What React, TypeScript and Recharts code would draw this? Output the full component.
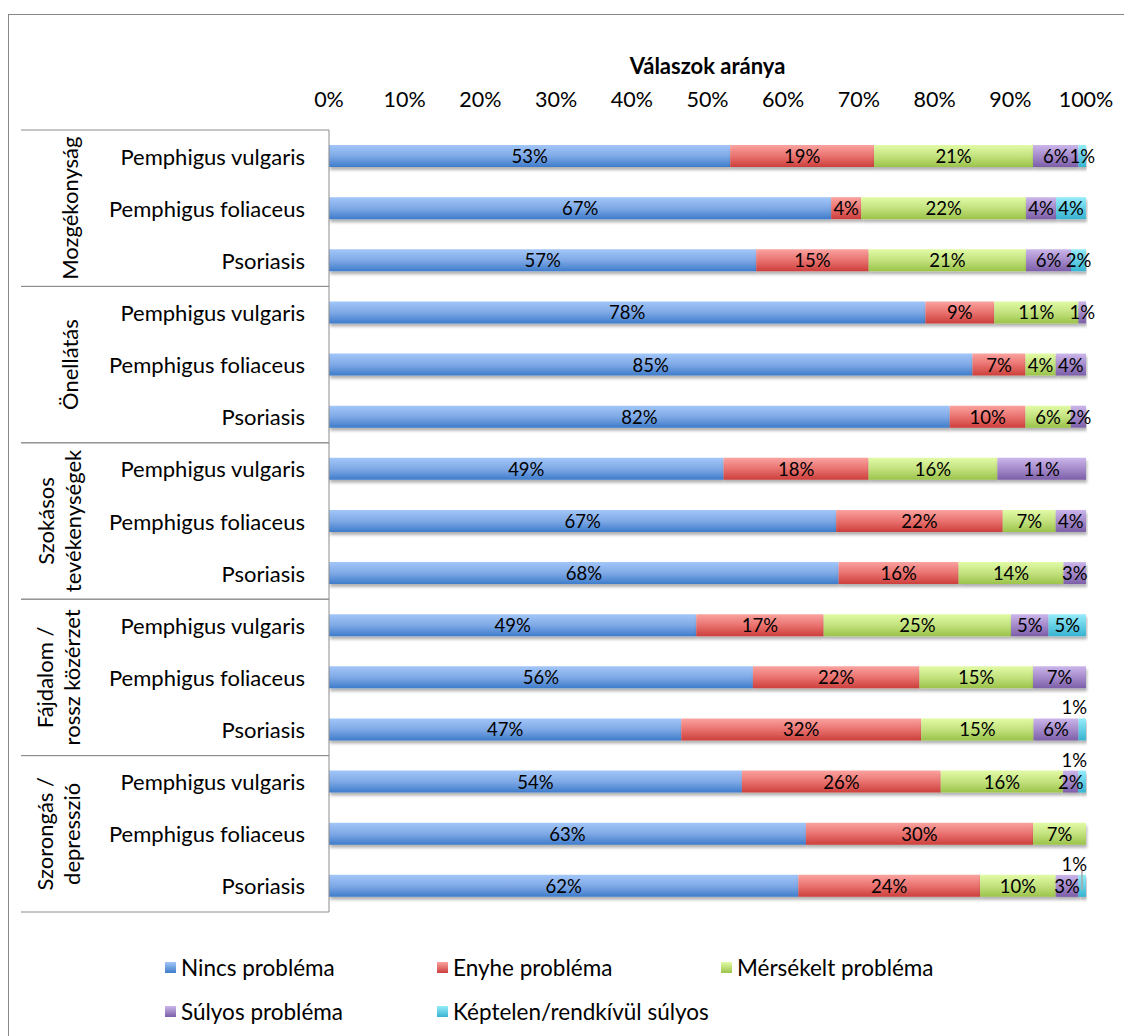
import React from 'react';
import { BarChart, Bar, XAxis, YAxis, LabelList, Legend } from 'recharts';

const groupLines: string[][] = [
  ['Mozgékonyság'],
  ['Önellátás'],
  ['Szokásos', 'tevékenységek'],
  ['Fájdalom /', 'rossz közérzet'],
  ['Szorongás /', 'depresszió'],
];
const diseases = ['Pemphigus vulgaris', 'Pemphigus foliaceus', 'Psoriasis'];
const seriesNames = ['Nincs probléma', 'Enyhe probléma', 'Mérsékelt probléma', 'Súlyos probléma', 'Képtelen/rendkívül súlyos'];

const nincs = [53, 67, 57, 78, 85, 82, 49, 67, 68, 49, 56, 47, 54, 63, 62];
const enyhe = [19, 4, 15, 9, 7, 10, 18, 22, 16, 17, 22, 32, 26, 30, 24];
const merseklet = [21, 22, 21, 11, 4, 6, 16, 7, 14, 25, 15, 15, 16, 7, 10];
const sulyos = [6, 4, 6, 1, 4, 2, 11, 4, 3, 5, 7, 6, 2, 0, 3];
const keptelen = [1, 4, 2, 0, 0, 0, 0, 0, 0, 5, 0, 1, 1, 0, 1];
const xTicks = [0, 0.1, 0.2, 0.3, 0.4, 0.5, 0.6, 0.7, 0.8, 0.9, 1];
const cyanLabelAboveRows = [11, 12, 14];

const seriesValues = [nincs, enyhe, merseklet, sulyos, keptelen];
const gradients = [
  ['#A2C6F8', '#7FA9E6', '#3E7CCB'],
  ['#FAA3A0', '#E9726F', '#CC3F3C'],
  ['#E2FBA6', '#C3E27E', '#9BC34A'],
  ['#CBB6EA', '#A58ACB', '#7C5FA8'],
  ['#96ECF9', '#66D0E6', '#38B3D0'],
];

const data = nincs.map((_, i) => {
  const row: any = { id: 'r' + i, idx: i, disease: diseases[i % 3], group: Math.floor(i / 3) };
  seriesValues.forEach((arr, s) => {
    row['s' + s] = arr[i];
  });
  return row;
});

const FONT = 'Lato, "Open Sans", sans-serif';
const LINE = '#8c8c8c';

const CategoryTick = (props: any) => {
  const { x, y, payload } = props;
  const i: number = payload.index;
  const half: number = payload.offset || 26;
  const pos = i % 3;
  const g = Math.floor(i / 3);
  const axisX = x + 24;
  const lines = groupLines[g];
  return (
    <g>
      <text x={x} y={y} textAnchor="end" dominantBaseline="central" fontSize={22} fill="#000" fontFamily={FONT}>
        {diseases[pos]}
      </text>
      {pos === 0 && <line x1={13} x2={axisX} y1={y - half} y2={y - half} stroke={LINE} strokeWidth={1} />}
      {pos === 2 && <line x1={13} x2={axisX} y1={y + half} y2={y + half} stroke={LINE} strokeWidth={1} />}
      {pos === 1 &&
        lines.map((t, k) => {
          const cx = lines.length === 1 ? 62 : 37 + k * 27;
          return (
            <text
              key={k}
              x={cx}
              y={y}
              transform={`rotate(-90, ${cx}, ${y})`}
              textAnchor="middle"
              dominantBaseline="central"
              fontSize={22}
              fill="#000"
              fontFamily={FONT}
            >
              {t}
            </text>
          );
        })}
    </g>
  );
};

const makeLabel = (s: number) => (props: any) => {
  const { x, y, width, height, value } = props;
  if (!value || !value.v) return null;
  let tx = x + width / 2;
  let ty = y + height / 2;
  let anchor: any = 'middle';
  const above = s === 4 && cyanLabelAboveRows.includes(value.i);
  if (above) {
    tx = x + width + 1;
    ty = y - 11;
    anchor = 'end';
  }
  return (
    <g>
      {above && value.i === 14 && (
        <line x1={x + width - 4} x2={x + width - 4} y1={y - 4} y2={y + height / 2 + 4} stroke="#a6a6a6" strokeWidth={1.5} />
      )}
      <text x={tx} y={ty} textAnchor={anchor} dominantBaseline="central" fontSize={18.5} fill="#000" fontFamily={FONT}>
        {value.v}%
      </text>
    </g>
  );
};

const LegendContent = () => (
  <div
    style={{
      display: 'grid',
      gridTemplateColumns: '272px 284px 300px',
      rowGap: 20,
      fontFamily: FONT,
      fontSize: 22.5,
      color: '#000',
    }}
  >
    {seriesNames.map((n, s) => (
      <div key={n} style={{ display: 'flex', alignItems: 'center', height: 24, whiteSpace: 'nowrap' }}>
        <span
          style={{
            display: 'inline-block',
            width: 11,
            height: 11,
            marginRight: 5,
            background: `linear-gradient(to bottom, ${gradients[s][0]}, ${gradients[s][2]})`,
          }}
        />
        {n}
      </div>
    ))}
  </div>
);

export default function App() {
  return (
    <div style={{ position: 'relative', width: 1124, height: 1028, overflow: 'hidden', fontFamily: FONT }}>
      <div
        style={{
          position: 'absolute',
          left: 0,
          top: 6,
          width: 1121,
          height: 1060,
          border: '1px solid #878787',
          boxSizing: 'border-box',
        }}
      />
      <BarChart
        width={1124}
        height={1028}
        data={data}
        layout="vertical"
        stackOffset="expand"
        margin={{ top: 82, right: 46, bottom: 124, left: 0 }}
        barSize={22}
        style={{ position: 'absolute', left: 0, top: 0 }}
      >
        <defs>
          {gradients.map((g, s) => (
            <linearGradient key={s} id={'grad' + s} x1="0" y1="0" x2="0" y2="1">
              <stop offset="0%" stopColor={g[0]} />
              <stop offset="50%" stopColor={g[1]} />
              <stop offset="100%" stopColor={g[2]} />
            </linearGradient>
          ))}
          <filter id="shadow" x="-5%" y="-20%" width="110%" height="180%">
            <feDropShadow dx="1" dy="3" stdDeviation="1.6" floodColor="#000" floodOpacity="0.3" />
          </filter>
        </defs>
        <XAxis
          type="number"
          orientation="top"
          domain={[0, 1]}
          ticks={xTicks}
          tickFormatter={(v: number) => Math.round(v * 100) + '%'}
          axisLine={false}
          tickLine={false}
          tickSize={0}
          tickMargin={23}
          height={40}
          tick={{ fontSize: 21.5, fill: '#000', fontFamily: FONT }}
          interval={0}
          label={{
            value: 'Válaszok aránya',
            position: 'top',
            offset: 16,
            style: { fontWeight: 'bold', fontSize: 22, fill: '#000', fontFamily: FONT },
          }}
        />
        <YAxis
          type="category"
          dataKey="id"
          width={321}
          axisLine={{ stroke: LINE }}
          tickLine={false}
          tickSize={0}
          tickMargin={24}
          interval={0}
          tick={<CategoryTick />}
        />
        {seriesNames.map((n, s) => (
          <Bar
            key={n}
            dataKey={'s' + s}
            name={n}
            stackId="a"
            fill={`url(#grad${s})`}
            filter="url(#shadow)"
            isAnimationActive={false}
          >
            <LabelList dataKey={(row: any) => ({ v: row['s' + s], i: row.idx })} content={makeLabel(s)} />
          </Bar>
        ))}
        <Legend
          layout="horizontal"
          verticalAlign="middle"
          align="center"
          wrapperStyle={{ top: 947, left: 157, width: 900 }}
          content={<LegendContent />}
        />
      </BarChart>
    </div>
  );
}
